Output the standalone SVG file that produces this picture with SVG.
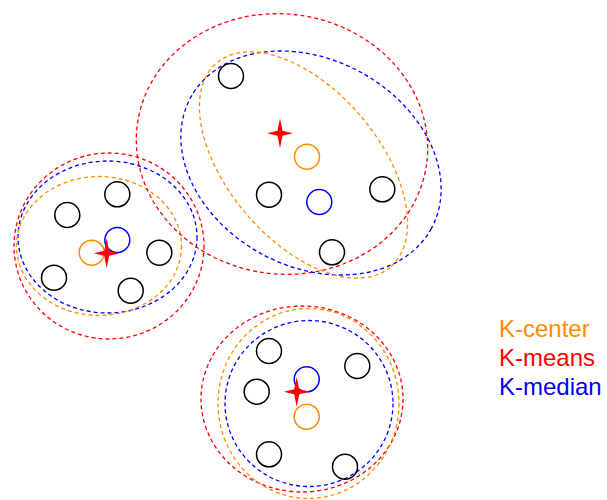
<svg xmlns="http://www.w3.org/2000/svg" width="607" height="500" viewBox="0 0 607 500">
  <defs>
    <style>
      .pt { fill: none; stroke: #000; stroke-width: 1.5; }
      .ctr-c { fill: none; stroke: #ff8c00; stroke-width: 1.5; }
      .ctr-d { fill: none; stroke: #0000ff; stroke-width: 1.5; }
      .hull { fill: none; stroke-width: 1.3; stroke-dasharray: 4 3; }
      .h-c { stroke: #ff8c00; }
      .h-m { stroke: #ff0000; }
      .h-d { stroke: #0000ff; }
      .lbl { font-family: "Liberation Sans", Arial, sans-serif; font-size: 24px; }
    </style>
    <path id="star" d="M0,-15 L2.5,-2.5 L13,0 L2.5,2.5 L0,15 L-2.5,2.5 L-13,0 L-2.5,-2.5 Z" fill="#ff0000"/>
  </defs>
  <rect width="607" height="500" fill="#fff"/>

  <!-- cluster boundaries -->
  <g id="boundaries">
    <ellipse class="hull h-m" cx="109" cy="246" rx="95" ry="93"/>
    <ellipse class="hull h-d" cx="107.5" cy="237" rx="89.5" ry="76"/>
    <ellipse class="hull h-c" cx="99" cy="246" rx="82.5" ry="69.5"/>

    <ellipse class="hull h-m" cx="282" cy="144" rx="146" ry="130" transform="rotate(8 282 144)"/>
    <ellipse class="hull h-d" cx="311" cy="163" rx="137" ry="103.5" transform="rotate(28.5 311 163)"/>
    <ellipse class="hull h-c" cx="303.5" cy="165" rx="134" ry="75.3" transform="rotate(49.6 303.5 165)"/>

    <ellipse class="hull h-m" cx="302" cy="399" rx="101" ry="93"/>
    <ellipse class="hull h-c" cx="308.5" cy="403.5" rx="90.5" ry="95"/>
    <ellipse class="hull h-d" cx="309" cy="403.5" rx="84" ry="83"/>
  </g>

  <!-- left cluster -->
  <g id="cluster-left">
    <circle class="pt" cx="117.3" cy="194.3" r="12.5"/>
    <circle class="pt" cx="67.3" cy="215" r="12.5"/>
    <circle class="pt" cx="159.3" cy="252.7" r="12.5"/>
    <circle class="pt" cx="54" cy="277.7" r="12.5"/>
    <circle class="pt" cx="130.7" cy="290.7" r="12.5"/>
    <circle class="ctr-d" cx="117.3" cy="240" r="12.5"/>
    <circle class="ctr-c" cx="91.7" cy="252.7" r="12.5"/>
    <use href="#star" x="106.7" y="253.3"/>
  </g>

  <!-- top cluster -->
  <g id="cluster-top">
    <circle class="pt" cx="231" cy="76" r="12.5"/>
    <circle class="pt" cx="269" cy="194.7" r="12.5"/>
    <circle class="pt" cx="382.3" cy="189.3" r="12.5"/>
    <circle class="pt" cx="332" cy="252.3" r="12.5"/>
    <circle class="ctr-c" cx="307" cy="156.7" r="12.5"/>
    <circle class="ctr-d" cx="319.3" cy="202" r="12.5"/>
    <use href="#star" x="280" y="133.3"/>
  </g>

  <!-- bottom cluster -->
  <g id="cluster-bottom">
    <circle class="pt" cx="269" cy="351" r="12.5"/>
    <circle class="pt" cx="357.3" cy="366" r="12.5"/>
    <circle class="pt" cx="256.7" cy="391.7" r="12.5"/>
    <circle class="pt" cx="269" cy="454.3" r="12.5"/>
    <circle class="pt" cx="345" cy="466.7" r="12.5"/>
    <circle class="ctr-d" cx="306.7" cy="379.3" r="12.5"/>
    <circle class="ctr-c" cx="306.7" cy="416.7" r="12.5"/>
    <use href="#star" x="296.7" y="391.7"/>
  </g>

  <!-- legend -->
  <g id="legend">
    <text class="lbl" x="499" y="336.5" fill="#ff8c00">K-center</text>
    <text class="lbl" x="499" y="366" fill="#ff0000">K-means</text>
    <text class="lbl" x="499" y="395" fill="#0000ff">K-median</text>
  </g>
</svg>
